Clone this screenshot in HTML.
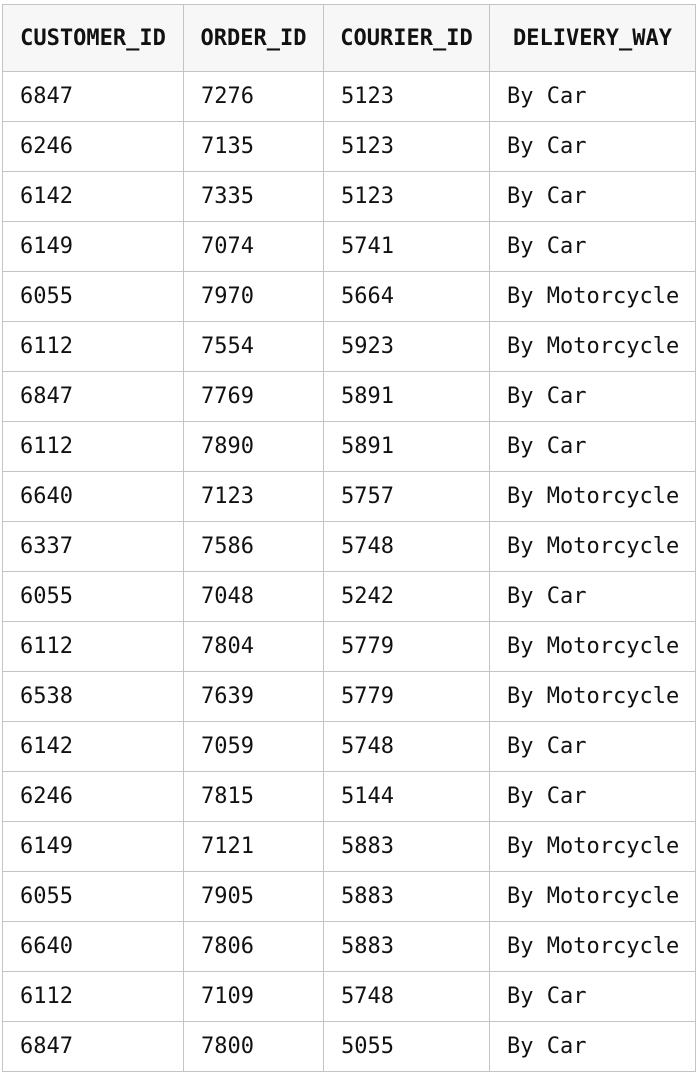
<!DOCTYPE html>
<html><head><meta charset="utf-8"><style>
html,body{margin:0;padding:0;background:#fff;width:700px;height:1078px;overflow:hidden}
table{position:absolute;left:2px;top:4px;border-collapse:collapse;font-family:"DejaVu Sans Mono","Liberation Mono",monospace;font-size:22px;color:#111;table-layout:fixed}
td,th{border:1px solid #c4c4c4;padding:0 0 0 17px;height:49px;text-align:left;white-space:nowrap;overflow:hidden}
th{height:66px;background:#f7f7f7;font-weight:bold;text-align:center;padding:0}
</style></head><body>
<table>
<colgroup><col style="width:181px"><col style="width:140px"><col style="width:166px"><col style="width:206px"></colgroup>
<thead><tr>
<th>CUSTOMER_ID</th>
<th>ORDER_ID</th>
<th>COURIER_ID</th>
<th>DELIVERY_WAY</th>
</tr></thead>
<tbody>
<tr><td>6847</td><td>7276</td><td>5123</td><td>By Car</td></tr>
<tr><td>6246</td><td>7135</td><td>5123</td><td>By Car</td></tr>
<tr><td>6142</td><td>7335</td><td>5123</td><td>By Car</td></tr>
<tr><td>6149</td><td>7074</td><td>5741</td><td>By Car</td></tr>
<tr><td>6055</td><td>7970</td><td>5664</td><td>By Motorcycle</td></tr>
<tr><td>6112</td><td>7554</td><td>5923</td><td>By Motorcycle</td></tr>
<tr><td>6847</td><td>7769</td><td>5891</td><td>By Car</td></tr>
<tr><td>6112</td><td>7890</td><td>5891</td><td>By Car</td></tr>
<tr><td>6640</td><td>7123</td><td>5757</td><td>By Motorcycle</td></tr>
<tr><td>6337</td><td>7586</td><td>5748</td><td>By Motorcycle</td></tr>
<tr><td>6055</td><td>7048</td><td>5242</td><td>By Car</td></tr>
<tr><td>6112</td><td>7804</td><td>5779</td><td>By Motorcycle</td></tr>
<tr><td>6538</td><td>7639</td><td>5779</td><td>By Motorcycle</td></tr>
<tr><td>6142</td><td>7059</td><td>5748</td><td>By Car</td></tr>
<tr><td>6246</td><td>7815</td><td>5144</td><td>By Car</td></tr>
<tr><td>6149</td><td>7121</td><td>5883</td><td>By Motorcycle</td></tr>
<tr><td>6055</td><td>7905</td><td>5883</td><td>By Motorcycle</td></tr>
<tr><td>6640</td><td>7806</td><td>5883</td><td>By Motorcycle</td></tr>
<tr><td>6112</td><td>7109</td><td>5748</td><td>By Car</td></tr>
<tr><td>6847</td><td>7800</td><td>5055</td><td>By Car</td></tr>
</tbody></table>
</body></html>
